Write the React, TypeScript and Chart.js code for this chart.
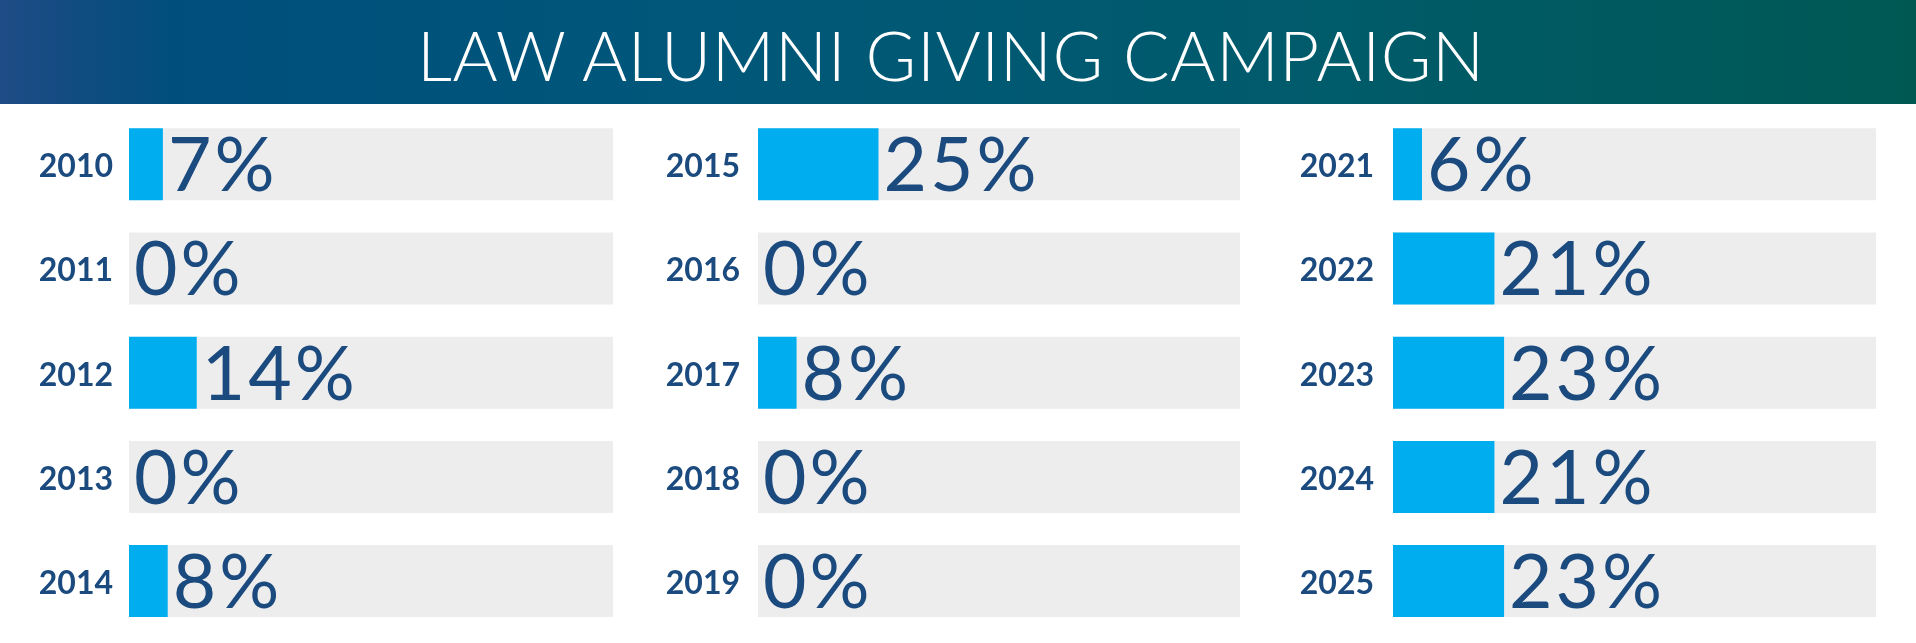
import React, { useEffect, useRef, useMemo } from "react";
import { Chart, registerables } from "chart.js";

Chart.register(...registerables);

// ---- data ----
const title = "LAW ALUMNI GIVING CAMPAIGN";
const years1 = ["2010", "2011", "2012", "2013", "2014"];
const values1 = [7, 0, 14, 0, 8];
const years2 = ["2015", "2016", "2017", "2018", "2019"];
const values2 = [25, 0, 8, 0, 0];
const years3 = ["2021", "2022", "2023", "2024", "2025"];
const values3 = [6, 21, 23, 21, 23];
const trackFull = [100, 100, 100, 100, 100];

const NAVY = "#1b4a7e";
const CYAN = "#00aeef";
const TRACK = "#ededed";

const valueLabelPlugin = {
  id: "valueLabels",
  afterDatasetsDraw(chart: any) {
    const ctx = chart.ctx;
    const meta = chart.getDatasetMeta(0);
    const xs = chart.scales.x;
    const vals = chart.data.datasets[0].data;
    ctx.save();
    ctx.font = "400 75px Lato";
    ctx.fillStyle = NAVY;
    ctx.textAlign = "left";
    ctx.textBaseline = "alphabetic";
    (ctx as any).letterSpacing = "3px";
    meta.data.forEach((bar: any, i: number) => {
      const v = vals[i];
      const x = xs.getPixelForValue(v) + 5;
      ctx.fillText(`${v}%`, x, bar.y + 26.8);
    });
    ctx.restore();
  },
};

function Column(props: {
  years: string[];
  values: number[];
  left: number;
  width: number;
  axisWidth: number;
  labelPad: number;
}) {
  const { years, values, left, width, axisWidth, labelPad } = props;
  const ref = useRef<HTMLCanvasElement>(null);
  useEffect(() => {
    const chart = new Chart(ref.current as HTMLCanvasElement, {
      type: "bar",
      data: {
        labels: years,
        datasets: [
          {
            data: values,
            backgroundColor: CYAN,
            order: 0,
            barThickness: 72,
            grouped: false,
            inflateAmount: 0,
            borderWidth: 0,
          } as any,
          {
            data: trackFull,
            backgroundColor: TRACK,
            order: 1,
            barThickness: 72,
            grouped: false,
            inflateAmount: 0,
            borderWidth: 0,
          } as any,
        ],
      },
      options: {
        indexAxis: "y",
        responsive: false,
        maintainAspectRatio: false,
        animation: false,
        devicePixelRatio: 1,
        layout: { padding: { top: 7.2, bottom: 9.8, left: 0, right: 0 } },
        plugins: { legend: { display: false }, tooltip: { enabled: false } },
        scales: {
          x: { display: false, min: 0, max: 100 },
          y: {
            grid: { display: false, drawTicks: false },
            border: { display: false },
            ticks: {
              color: NAVY,
              font: { family: "Lato", weight: "bold", size: 32 },
              padding: labelPad,
              labelOffset: 2.6,
            },
            afterFit: (s: any) => {
              s.width = axisWidth;
              s.paddingTop = 0;
              s.paddingBottom = 0;
            },
          },
        },
      } as any,
      plugins: [valueLabelPlugin],
    });
    return () => chart.destroy();
  }, []);
  return (
    <canvas
      ref={ref}
      width={width}
      height={538}
      style={{ position: "absolute", left, top: 105, width, height: 538 }}
    />
  );
}

export default function App() {
  const spacing = useMemo(() => {
    const c = document.createElement("canvas").getContext("2d") as CanvasRenderingContext2D;
    c.font = "300 69px Lato";
    const w = c.measureText(title).width;
    return (1071 - w) / (title.length - 1);
  }, []);
  return (
    <div
      style={{
        position: "absolute",
        left: 0,
        top: 0,
        width: 1916,
        height: 643,
        background: "#ffffff",
        overflow: "hidden",
      }}
    >
      <div
        style={{
          position: "absolute",
          left: 0,
          top: 0,
          width: 1916,
          height: 104,
          background:
            "linear-gradient(90deg, #1f4b85 0%, #004e7c 9%, #00577a 35%, #005b6a 70%, #005853 100%)",
        }}
      >
        <div
          style={{
            position: "absolute",
            left: 417,
            top: 19.8,
            fontFamily: "Lato",
            fontWeight: 300,
            fontSize: 69,
            lineHeight: "69px",
            color: "#ffffff",
            whiteSpace: "nowrap",
            letterSpacing: spacing,
          }}
        >
          {title}
        </div>
      </div>
      <Column years={years1} values={values1} left={0} width={613} axisWidth={129} labelPad={16} />
      <Column years={years2} values={values2} left={640} width={600} axisWidth={118} labelPad={18} />
      <Column years={years3} values={values3} left={1280} width={596} axisWidth={113} labelPad={19} />
    </div>
  );
}
